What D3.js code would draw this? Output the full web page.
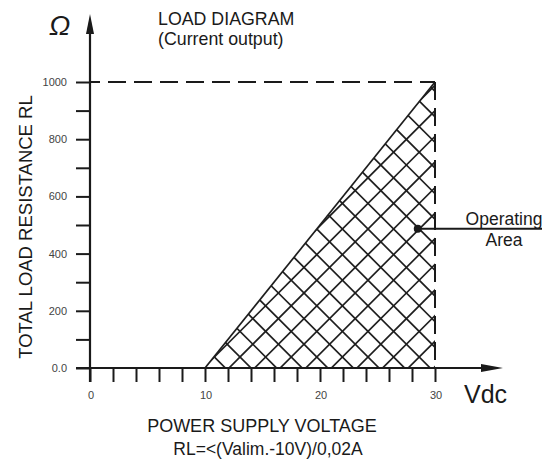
<!DOCTYPE html>
<html>
<head>
<meta charset="utf-8">
<script src="https://cdn.jsdelivr.net/npm/d3@7"></script>
<style>
  html, body { margin: 0; padding: 0; background: #fff; }
  svg { display: block; }
  text { font-family: "Liberation Sans", Arial, sans-serif; fill: #1a1a1a; }
</style>
</head>
<body>
<svg id="chart" width="542" height="462"></svg>
<script>
// ---- data ----
const vDomain = [0, 30];
const rDomain = [0, 1000];
const xTickValues = [0, 2, 4, 6, 8, 10, 12, 14, 16, 18, 20, 22, 24, 26, 28, 30];
const xLabelValues = [0, 10, 20, 30];
const yTickValues = [0, 100, 200, 300, 400, 500, 600, 700, 800, 900, 1000];
const yLabelValues = [0, 200, 400, 600, 800, 1000];
const yLabelText = ["0.0", "200", "400", "600", "800", "1000"];
const regionV = [10, 30, 30];
const regionR = [0, 1000, 0];
const limitV = 30;
const limitR = 1000;
const pointV = [28.5];
const pointR = [487];

const svg = d3.select("#chart");
const x = d3.scaleLinear().domain(vDomain).range([90, 435]);
const y = d3.scaleLinear().domain(rDomain).range([368, 82]);
const ink = "#1a1a1a";

// ---- hatched operating region ----
const poly = regionV.map((v, i) => [x(v), y(regionR[i])]);
svg.append("defs").append("clipPath").attr("id", "regionClip")
  .append("polygon").attr("points", poly.map(p => p.join(",")).join(" "));

const hatch = svg.append("g").attr("clip-path", "url(#regionClip)")
  .attr("stroke", "#1e1e1e").attr("stroke-width", 1.7);
const step = 25.6;
for (let k = -30; k <= 30; k++) {
  const c = 597 + step * k; // x + y = c
  hatch.append("line").attr("x1", 0).attr("y1", c).attr("x2", 600).attr("y2", c - 600);
  const d = -117 + step * k; // x - y = d
  hatch.append("line").attr("x1", 0).attr("y1", -d).attr("x2", 600).attr("y2", 600 - d);
}
// hypotenuse
svg.append("line")
  .attr("x1", x(regionV[0])).attr("y1", y(regionR[0]))
  .attr("x2", x(regionV[1])).attr("y2", y(regionR[1]))
  .attr("stroke", "#1e1e1e").attr("stroke-width", 1.7);

// ---- dashed limits ----
svg.append("line")
  .attr("x1", x(0)).attr("y1", y(limitR)).attr("x2", x(limitV)).attr("y2", y(limitR))
  .attr("stroke", ink).attr("stroke-width", 2)
  .attr("stroke-dasharray", "18,8").attr("stroke-dashoffset", 8);
svg.append("line")
  .attr("x1", x(limitV)).attr("y1", y(limitR)).attr("x2", x(limitV)).attr("y2", y(0))
  .attr("stroke", ink).attr("stroke-width", 2)
  .attr("stroke-dasharray", "18,8");

// ---- axes ----
const yAxis = d3.axisLeft(y).tickValues(yTickValues).tickSize(14).tickFormat("");
const gy = svg.append("g").attr("transform", `translate(${x(0)},0)`).call(yAxis);
gy.select(".domain").remove();
gy.selectAll(".tick line").attr("stroke", ink).attr("stroke-width", 2);

const xAxis = d3.axisBottom(x).tickValues(xTickValues).tickSize(14).tickFormat("");
const gx = svg.append("g").attr("transform", `translate(0,${y(0)})`).call(xAxis);
gx.select(".domain").remove();
gx.selectAll(".tick line").attr("stroke", ink).attr("stroke-width", 2);

// axis lines with arrows
svg.append("line").attr("x1", x(0)).attr("y1", 382).attr("x2", x(0)).attr("y2", 28)
  .attr("stroke", ink).attr("stroke-width", 2.2);
svg.append("path").attr("d", `M${x(0)},14 L${x(0) - 4},34 L${x(0) + 4},34 Z`).attr("fill", ink);
svg.append("line").attr("x1", 76).attr("y1", y(0)).attr("x2", 488).attr("y2", y(0))
  .attr("stroke", ink).attr("stroke-width", 2.2);
svg.append("path").attr("d", `M503,${y(0)} L481,${y(0) - 4} L481,${y(0) + 4} Z`).attr("fill", ink);

// tick labels
svg.append("g").selectAll("text").data(xLabelValues).join("text")
  .attr("x", d => x(d) + 1).attr("y", 399)
  .attr("text-anchor", "middle").attr("font-size", 11).style("fill", "#444")
  .text(d => d);
svg.append("g").selectAll("text").data(yLabelValues).join("text")
  .attr("x", 67).attr("y", d => y(d) + 4)
  .attr("text-anchor", "end").attr("font-size", 11).style("fill", "#444")
  .text((d, i) => yLabelText[i]);

// ---- texts ----
svg.append("text").attr("x", 158).attr("y", 25).attr("font-size", 17.8).text("LOAD DIAGRAM");
svg.append("text").attr("x", 158).attr("y", 45).attr("font-size", 17.8).text("(Current output)");
svg.append("text").attr("x", 49).attr("y", 35).attr("font-size", 28).attr("font-style", "italic").text("Ω");
svg.append("text").attr("x", 464).attr("y", 403).attr("font-size", 25).text("Vdc");
svg.append("text").attr("x", 262).attr("y", 432).attr("text-anchor", "middle").attr("font-size", 18)
  .text("POWER SUPPLY VOLTAGE");
svg.append("text").attr("x", 268).attr("y", 455).attr("text-anchor", "middle").attr("font-size", 17.5)
  .text("RL=<(Valim.-10V)/0,02A");
svg.append("text").attr("transform", "translate(32,227) rotate(-90)")
  .attr("text-anchor", "middle").attr("font-size", 18.5).text("TOTAL LOAD RESISTANCE RL");

// ---- operating area marker ----
svg.append("line").attr("x1", x(pointV[0])).attr("y1", y(pointR[0])).attr("x2", 542).attr("y2", y(pointR[0]))
  .attr("stroke", ink).attr("stroke-width", 2);
svg.append("circle").attr("cx", x(pointV[0])).attr("cy", y(pointR[0])).attr("r", 4).attr("fill", ink);
svg.append("text").attr("x", 504).attr("y", 225).attr("text-anchor", "middle").attr("font-size", 17.5).text("Operating");
svg.append("text").attr("x", 504).attr("y", 246).attr("text-anchor", "middle").attr("font-size", 17.5).text("Area");
</script>
</body>
</html>
